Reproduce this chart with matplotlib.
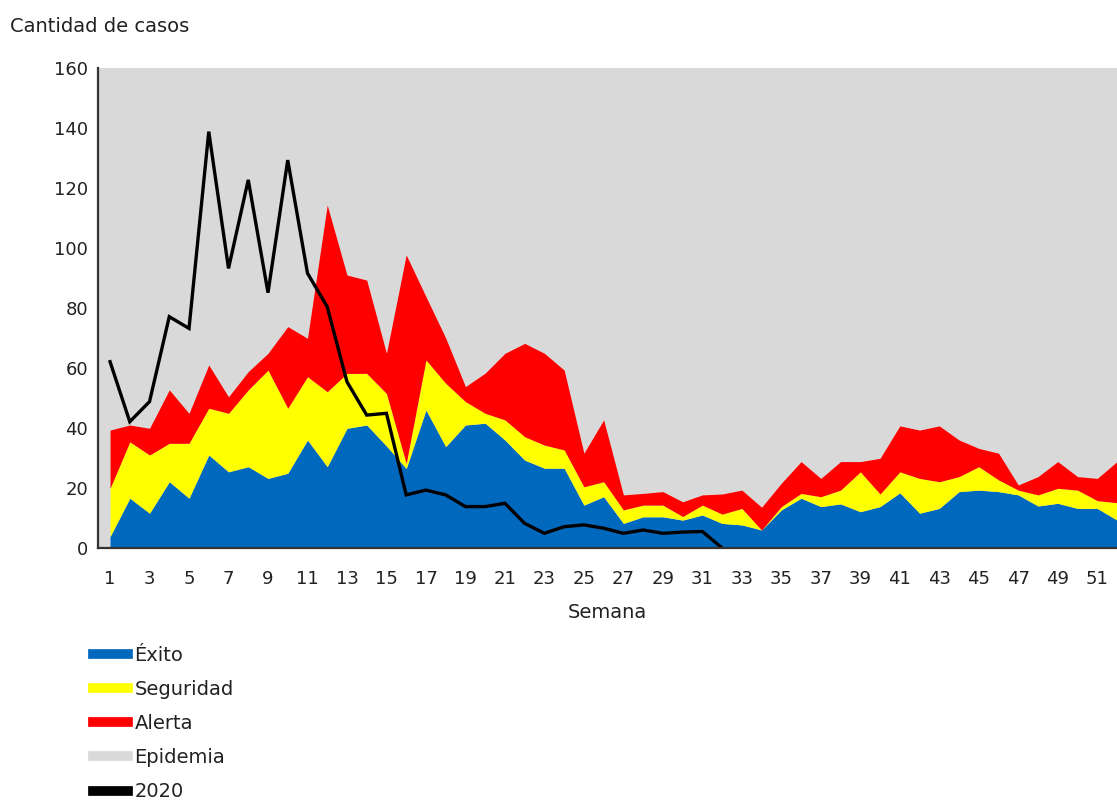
import numpy as np
import matplotlib
matplotlib.use("Agg")
import matplotlib.pyplot as plt
from matplotlib.lines import Line2D

# ── DATA ────────────────────────────────────────────────────
semanas = list(range(1, 53))

# cumulative thresholds of the endemic channel (top of each band)
exito = [3.8, 16.6, 11.6, 22.1, 16.6, 31.0, 25.4, 27.1, 23.2, 24.9,
         36.0, 27.1, 39.9, 41.0, 34.0, 26.5, 46.0, 33.8, 41.0, 41.6,
         36.0, 29.3, 26.6, 26.6, 14.3, 17.1, 8.2, 10.4, 10.4, 9.3,
         11.0, 8.2, 7.7, 6.0, 12.7, 16.6, 13.8, 14.7, 12.1, 13.8,
         18.4, 11.6, 13.2, 18.8, 19.3, 18.8, 17.7, 14.0, 14.9, 13.2,
         13.2, 9.3]
seguridad = [19.9, 35.4, 31.0, 34.9, 34.9, 46.6, 44.9, 52.7, 59.3, 46.6,
             57.1, 52.1, 58.2, 58.2, 51.5, 28.2, 62.7, 54.9, 48.8, 44.9,
             42.7, 37.1, 34.3, 32.7, 20.4, 22.1, 12.7, 14.3, 14.3, 10.5,
             14.3, 11.3, 13.2, 6.0, 13.8, 18.2, 17.1, 19.3, 25.4, 18.0,
             25.4, 23.2, 22.1, 23.8, 27.1, 22.7, 19.3, 17.7, 19.9, 19.3,
             15.8, 15.1]
alerta = [39.3, 41.0, 39.9, 52.7, 44.9, 61.0, 50.4, 58.8, 64.9, 73.8,
          69.9, 114.3, 91.0, 89.3, 64.9, 97.7, 83.8, 70.0, 53.8, 58.3,
          64.9, 68.2, 64.9, 59.3, 31.6, 42.7, 17.7, 18.2, 18.8, 15.4,
          17.7, 18.0, 19.3, 13.6, 21.6, 28.8, 23.2, 28.8, 28.8, 29.9,
          40.7, 39.3, 40.7, 36.0, 33.2, 31.6, 21.0, 23.8, 28.8, 23.8,
          23.2, 28.8]

semanas_2020 = list(range(1, 33))
casos_2020 = [62.1, 42.1, 48.8, 77.1, 73.2, 138.8, 93.2, 122.7, 85.1, 129.3,
              91.6, 80.4, 55.4, 44.3, 44.9, 17.7, 19.3, 17.7, 13.8, 13.8,
              14.9, 8.2, 4.9, 7.1, 7.7, 6.6, 4.9, 6.0, 4.9, 5.3,
              5.5, 0.0]

# ── STYLE ───────────────────────────────────────────────────
C_EXITO = '#0069BE'
C_SEG = '#FFFF00'
C_ALERTA = '#FF0000'
C_EPI = '#D9D9D9'
C_TXT = '#222222'

plt.rcParams['font.family'] = ['DejaVu Sans']

fig = plt.figure(figsize=(11.17, 8.01), dpi=100)
ax = fig.add_axes([98 / 1117, 1 - 548 / 801, 1 - 98 / 1117, (548 - 68) / 801])
ax.set_facecolor(C_EPI)

ax.fill_between(semanas, 0, exito, color=C_EXITO, lw=0)
ax.fill_between(semanas, exito, seguridad, color=C_SEG, lw=0)
ax.fill_between(semanas, seguridad, alerta, color=C_ALERTA, lw=0)
ax.plot(semanas_2020, casos_2020, color='black', lw=2.4, solid_joinstyle='miter')

ax.set_xlim(0.39, 52)
ax.set_ylim(0, 160)
ax.set_yticks(range(0, 161, 20))
ax.set_xticks(range(1, 52, 2))
ax.tick_params(axis='both', length=0, labelsize=13, colors=C_TXT)
ax.tick_params(axis='y', pad=7)
ax.tick_params(axis='x', pad=16)

for s in ['top', 'right']:
    ax.spines[s].set_visible(False)
for s in ['left', 'bottom']:
    ax.spines[s].set_color('#333333')
    ax.spines[s].set_linewidth(1.6)

ax.set_xlabel('Semana', fontsize=14, color=C_TXT, labelpad=11)
fig.text(10 / 1117, 1 - 26 / 801, 'Cantidad de casos', fontsize=14,
         color=C_TXT, va='center', ha='left')

handles = [
    Line2D([], [], color=C_EXITO, lw=7),
    Line2D([], [], color=C_SEG, lw=7),
    Line2D([], [], color=C_ALERTA, lw=7),
    Line2D([], [], color=C_EPI, lw=7),
    Line2D([], [], color='black', lw=7),
]
labels = ['Éxito', 'Seguridad', 'Alerta', 'Epidemia', '2020']
fig.legend(handles, labels, loc='upper left',
           bbox_to_anchor=(85 / 1117, 1 - 638 / 801), frameon=False,
           fontsize=14, handlelength=1.8, handletextpad=0.35,
           labelspacing=0.78, borderaxespad=0, labelcolor=C_TXT)

plt.savefig('out.png', dpi=100)
plt.close()
